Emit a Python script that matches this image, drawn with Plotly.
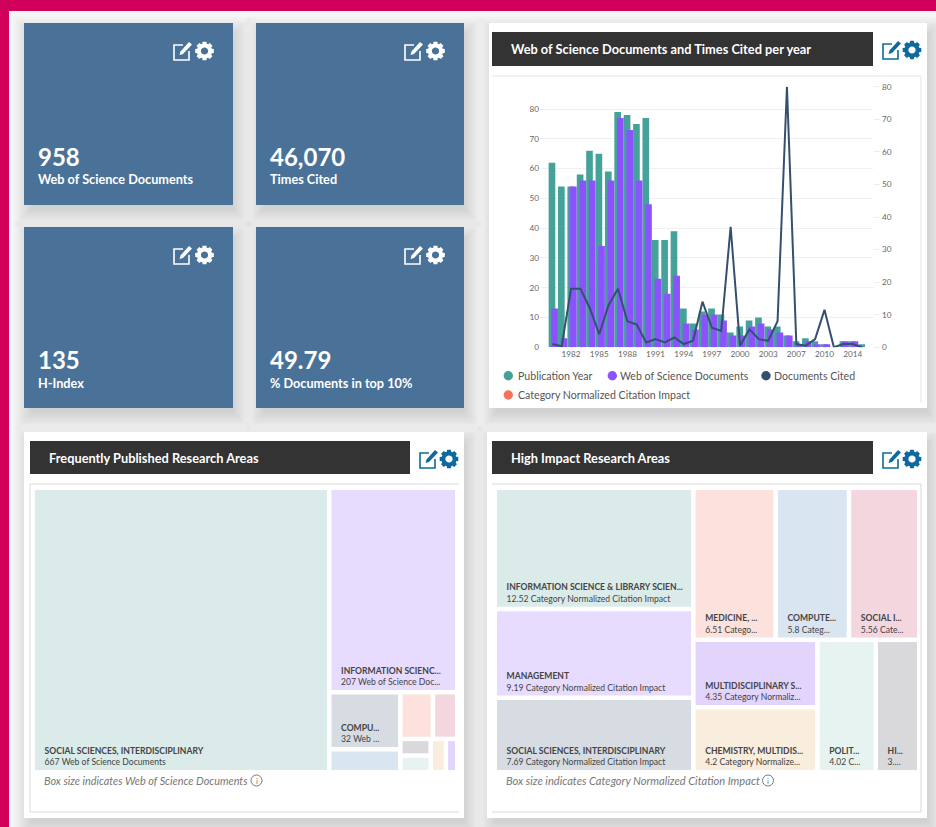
import math
import plotly.graph_objects as go

W, H = 936, 827

# ---- data ----
years = ["1980","1981","1982","1983","1984","1985","1986","1987","1988","1989","1990","1991",
         "1992","1993","1994","1995","1996","1997","1998","1999","2000","2001","2002","2003",
         "2004","2005","2007","2008","2009","2010","2012","2013","2014","2015"]
tick_years = ["1982","1985","1988","1991","1994","1997","2000","2003","2007","2010","2014"]
publication_year = [62,54,54,58,66,65,59,79,78,75,77,36,36,39,13,8,12,13,11,5,7,9,10,7,7,4,2,3,2,1,0,2,2,1]
wos_documents = [13,3,54,56,56,34,56,77,73,56,48,23,18,24,8,6,11,11,9,4,4,7,8,6,5,4,1,2,1,1,0,2,2,0]
documents_cited = [1,0.3,18,18,12,4,13,18,8,7,1.5,2.5,1.5,3,1,2,14,6,5,37,0.5,5.5,2.5,2,8,80,1,0.5,2.5,11.5,0,1,1,0]
left_ticks = [0,10,20,30,40,50,60,70,80]
right_ticks = [0,10,20,30,40,50,60,70,80]

freq_names = ["SOCIAL SCIENCES, INTERDISCIPLINARY","INFORMATION SCIENC...","COMPU...","","","","","","",""]
freq_subs = ["667 Web of Science Documents","207 Web of Science Doc...","32 Web ...","","","","","","",""]
freq_values = [667,207,32,13,12,9,4,4,4,3]
freq_colors = ["#DAEBE9","#E7DBFE","#D7DCE2","#D9E5F1","#FDE1DC","#F4D6DF","#D9D9DB","#E6F3F1","#F9EDDD","#E3D4FC"]

impact_names = ["INFORMATION SCIENCE & LIBRARY SCIEN...","MANAGEMENT","SOCIAL SCIENCES, INTERDISCIPLINARY",
                "MEDICINE, ...","COMPUTE...","SOCIAL I...","MULTIDISCIPLINARY S...","CHEMISTRY, MULTIDIS...","POLIT...","HI..."]
impact_subs = ["12.52 Category Normalized Citation Impact","9.19 Category Normalized Citation Impact",
               "7.69 Category Normalized Citation Impact","6.51 Catego...","5.8 Categ...","5.56 Cate...",
               "4.35 Category Normaliz...","4.2 Category Normalize...","4.02 C...","3...."]
impact_values = [12.52,9.19,7.69,6.51,5.8,5.56,4.35,4.2,4.02,3]
impact_colors = ["#DAEBE9","#E7DBFE","#D7DCE2","#FDE1DC","#D9E5F1","#F4D6DF","#E3D4FC","#F9EDDD","#E6F3F1","#D9D9DB"]

TEAL, PURPLE, NAVY, CORAL = "#45A29A", "#8C52FF", "#34506E", "#F4735A"
CARD, DARK, BLUE = "#4A7299", "#333333", "#0E6A9E"
FONT = "Lato"

shapes, annos = [], []
px = lambda v: v / W
py = lambda v: 1 - v / H

def rect(x0, y0, x1, y1, fill, opacity=1, line=None):
    shapes.append(dict(type="rect", xref="paper", yref="paper", layer="below",
                       x0=px(x0), x1=px(x1), y0=py(y1), y1=py(y0), fillcolor=fill, opacity=opacity,
                       line=dict(width=1 if line else 0, color=line or "rgba(0,0,0,0)")))

def shadow(x0, y0, x1, y1):
    for i in range(12):
        g = 14 - 1.6 * i
        rect(x0 + 4 - g, y0 + 8 - g, x1 + 4 + g, y1 + 8 + g, "#000000", 0.011)

def poly(points, fill, line=None, lw=0):
    d = "M" + "L".join(f"{px(a):.5f},{py(b):.5f}" for a, b in points) + "Z"
    shapes.append(dict(type="path", xref="paper", yref="paper", layer="above", path=d, fillcolor=fill,
                       line=dict(width=lw, color=line or "rgba(0,0,0,0)")))

def open_path(points, color, lw):
    d = "M" + "L".join(f"{px(a):.5f},{py(b):.5f}" for a, b in points)
    shapes.append(dict(type="path", xref="paper", yref="paper", layer="above", path=d,
                       line=dict(width=lw, color=color)))

def gear(cx, cy, r, color):
    outer = []
    for i in range(8):
        a0 = i * math.pi / 4
        for da, rr in [(-0.30, 0.80), (-0.20, 1.0), (0.20, 1.0), (0.30, 0.80)]:
            outer.append((cx + rr * r * math.cos(a0 + da), cy + rr * r * math.sin(a0 + da)))
    inner = [(cx + 0.38 * r * math.cos(-k * math.pi / 8), cy + 0.38 * r * math.sin(-k * math.pi / 8)) for k in range(16)]
    d = "M" + "L".join(f"{px(a):.5f},{py(b):.5f}" for a, b in outer) + "Z"
    d += "M" + "L".join(f"{px(a):.5f},{py(b):.5f}" for a, b in inner) + "Z"
    shapes.append(dict(type="path", xref="paper", yref="paper", layer="above", path=d, fillcolor=color,
                       line=dict(width=0, color="rgba(0,0,0,0)")))

def edit_icon(x, y, color):
    open_path([(x + 10, y + 3), (x + 1, y + 3), (x + 1, y + 18), (x + 16, y + 18), (x + 16, y + 9)], color, 1.6)
    poly([(x + 16, y), (x + 19, y + 2.5), (x + 10, y + 12), (x + 6.5, y + 13), (x + 7.5, y + 9.5)], color)

def text(x, y, s, size, color, bold=False, italic=False, anchor="left"):
    if bold:
        s = f"<b>{s}</b>"
    if italic:
        s = f"<i>{s}</i>"
    annos.append(dict(xref="paper", yref="paper", x=px(x), y=py(y), text=s, showarrow=False,
                      xanchor=anchor, yanchor="middle", borderpad=0, borderwidth=0,
                      font=dict(family=FONT, size=size, color=color)))

def circle(cx, cy, r, fill=None, line=None, lw=0, layer="above"):
    shapes.append(dict(type="circle", xref="paper", yref="paper", layer=layer,
                       x0=px(cx - r), x1=px(cx + r), y0=py(cy + r), y1=py(cy - r),
                       fillcolor=fill or "rgba(0,0,0,0)", line=dict(width=lw, color=line or "rgba(0,0,0,0)")))

# page frame
rect(0, 0, 936, 11, "#D1005A")
rect(0, 0, 9, 827, "#D1005A")

# KPI cards
cards = [(24, 23, 233, 205, "958", "Web of Science Documents"),
         (256, 23, 464, 205, "46,070", "Times Cited"),
         (24, 227, 233, 408, "135", "H-Index"),
         (256, 227, 464, 408, "49.79", "% Documents in top 10%")]
for x0, y0, x1, y1, big, lab in cards:
    shadow(x0, y0, x1, y1)
for x0, y0, x1, y1, big, lab in cards:
    rect(x0, y0, x1, y1, CARD)
    text(x0 + 14, y1 - 49, big, 24, "white", bold=True)
    text(x0 + 14, y1 - 25.5, lab, 12.7, "white", bold=True)
    edit_icon(x1 - 60, y0 + 19, "white")
    gear(x1 - 28.5, y0 + 28, 9.5, "white")

# panels
panels = [(489, 23, 927, 408, 492, 32, 873, 66, "Web of Science Documents and Times Cited per year"),
          (24, 432, 464, 818, 30, 441, 410, 474, "Frequently Published Research Areas"),
          (487, 432, 927, 818, 492, 441, 873, 474, "High Impact Research Areas")]
for p in panels:
    shadow(*p[:4])
for p in panels:
    rect(*p[:4], "white")
    rect(p[4], p[5], p[6], p[7], DARK)
    text(p[4] + 19, (p[5] + p[7]) / 2, p[8], 12.8, "white", bold=True)
    edit_icon(p[6] + 9, p[5] + 9, BLUE)
    gear(p[6] + 39, p[5] + 18, 9.5, BLUE)

# panel frames
open_path([(459, 484), (30, 484), (30, 812), (459, 812)], "#D8D8D8", 1)
open_path([(492, 484), (921, 484), (921, 812), (492, 812)], "#D8D8D8", 1)
open_path([(492, 76), (921, 76), (921, 403)], "#E4E4E4", 1)

# legend
for cx, cy, col, tx, lab in [(508.3, 375.7, TEAL, 517.5, "Publication Year"),
                             (612.3, 375.7, PURPLE, 620, "Web of Science Documents"),
                             (766, 375.7, NAVY, 774, "Documents Cited"),
                             (508.3, 395, CORAL, 517.5, "Category Normalized Citation Impact")]:
    circle(cx, cy, 4.7, fill=col)
    text(tx, cy, lab, 10.6, "#555555")

# treemap notes
for tx, s, ix, fs in [(44, "Box size indicates Web of Science Documents", 256.5, 10.85),
                      (506, "Box size indicates Category Normalized Citation Impact", 768, 11.1)]:
    text(tx, 780.5, s, fs, "#777777", italic=True)
    circle(ix, 780.5, 5.5, line="#777777", lw=1)
    text(ix, 780.5, "i", 8, "#777777", anchor="center")

fig = go.Figure()
fig.add_bar(x=years, y=publication_year, name="Publication Year", marker=dict(color=TEAL, line_width=0),
            width=0.71, offset=-0.39)
fig.add_bar(x=years, y=wos_documents, name="Web of Science Documents", marker=dict(color=PURPLE, line_width=0),
            width=0.71, offset=-0.107)
fig.add_scatter(x=years, y=documents_cited, name="Documents Cited", mode="lines",
                line=dict(color=NAVY, width=2), yaxis="y2")

def cell_text(names, subs):
    pad = "\u00a0\u00a0\u00a0"
    return [f"{pad}<b>{n}</b><br>{pad}{s}" if n else "" for n, s in zip(names, subs)]

def treemap(names, subs, values, colors, x0, x1, tag):
    fig.add_treemap(ids=[f"{tag}{i}" for i in range(len(values))],
                    labels=[n or f"{tag}{i}" for i, n in enumerate(names)],
                    parents=[""] * len(values), values=values, sort=True,
                    text=cell_text(names, subs), textinfo="text", textposition="bottom left",
                    textfont=dict(family=FONT, size=8.6, color="#444444"),
                    marker=dict(colors=colors, line=dict(width=0), cornerradius=2,
                                pad=dict(t=0, l=0, r=0, b=0)),
                    tiling=dict(pad=4.5, packing="squarify", squarifyratio=1.618),
                    pathbar=dict(visible=False), root=dict(color="rgba(0,0,0,0)"),
                    domain=dict(x=[px(x0), px(x1)], y=[py(770), py(490)]))

treemap(freq_names, freq_subs, freq_values, freq_colors, 35, 455, "f")
treemap(impact_names, impact_subs, impact_values, impact_colors, 497, 917, "h")

fig.update_layout(
    width=W, height=H, margin=dict(l=0, r=0, t=0, b=0, pad=0, autoexpand=False), autosize=False, showlegend=False,
    paper_bgcolor="#F5F5F5", plot_bgcolor="rgba(0,0,0,0)", barmode="overlay",
    shapes=shapes, annotations=annos, font=dict(family=FONT),
    xaxis=dict(domain=[px(540), px(873.3)], type="category", categoryorder="array", categoryarray=years,
               range=[-1.31, 34.2], tickmode="array", tickvals=tick_years, ticktext=tick_years,
               tickfont=dict(size=8.2, color="#666666"), showgrid=False, showline=False, ticklen=0, zeroline=False,
               tickangle=0, anchor="y"),
    yaxis=dict(domain=[py(347.3), py(86.7)], range=[0, 87.5], tickmode="array", tickvals=left_ticks,
               tickfont=dict(size=8.2, color="#666666"), gridcolor="#F0F0F0", gridwidth=1, zeroline=False,
               showline=False, ticklen=0, anchor="x"),
    yaxis2=dict(domain=[py(347.3), py(86.7)], range=[0, 80], overlaying="y", side="right", anchor="x",
                tickmode="array", tickvals=right_ticks, ticks="outside", ticklen=6, tickcolor="#EEEEEE",
                tickfont=dict(size=8.2, color="#666666"), showgrid=False, zeroline=False, showline=False),
)

fig.write_html("out.html", config=dict(displayModeBar=False),
               post_script="document.body.style.margin='0';document.documentElement.style.overflow='hidden';")
